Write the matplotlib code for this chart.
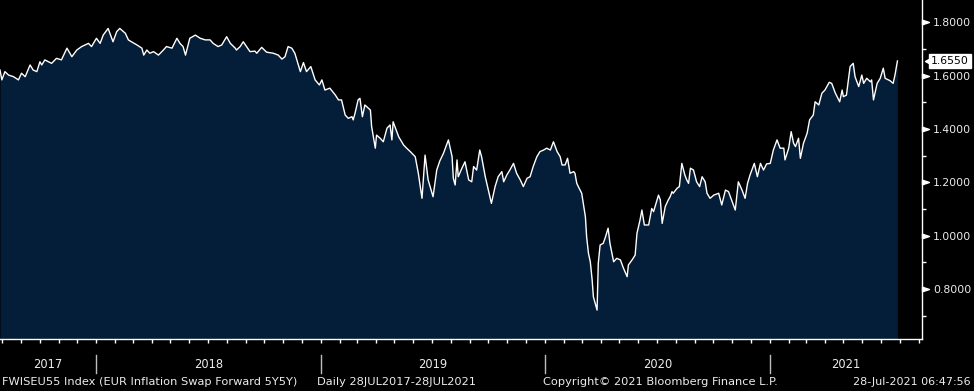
import numpy as np
import pandas as pd
import matplotlib
matplotlib.use("Agg")
import matplotlib.pyplot as plt
import matplotlib.dates as mdates
import matplotlib.transforms as mtransforms
from matplotlib.path import Path

start_date = "2017-07-28"
end_date = "2021-07-28"
axis_end_date = "2021-09-06"
day_offsets = [
    0, 3, 8, 14, 22, 30, 35, 41, 49, 54, 60, 65, 68, 73, 84, 92, 100, 109, 117, 125,
    133, 144, 149, 157, 163, 168, 176, 184, 190, 195, 204, 209, 214, 223, 231, 234, 239, 244, 250, 258,
    266, 271, 280, 288, 293, 298, 302, 309, 318, 326, 334, 342, 347, 355, 361, 369, 375, 383, 385, 391,
    396, 407, 415, 418, 426, 434, 445, 453, 459, 464, 469, 475, 480, 489, 494, 499, 506, 513, 520, 524,
    529, 537, 546, 551, 556, 562, 567, 573, 575, 578, 583, 586, 590, 594, 600, 603, 605, 611, 613, 619,
    624, 630, 635, 638, 640, 649, 657, 662, 668, 676, 681, 687, 692, 697, 705, 711, 716, 722, 730, 736,
    738, 741, 744, 746, 752, 757, 763, 768, 771, 776, 781, 784, 790, 795, 800, 806, 811, 817, 820, 825,
    830, 836, 841, 847, 852, 858, 863, 868, 874, 879, 885, 890, 896, 901, 907, 912, 915, 920, 924, 928,
    934, 936, 939, 943, 947, 950, 953, 955, 958, 961, 964, 966, 972, 974, 977, 982, 985, 990, 993, 999,
    1004, 1010, 1015, 1021, 1023, 1029, 1034, 1037, 1042, 1045, 1049, 1056, 1061, 1064, 1072, 1075, 1078, 1083, 1088, 1091,
    1094, 1096, 1102, 1106, 1110, 1115, 1118, 1121, 1124, 1129, 1134, 1139, 1143, 1148, 1151, 1156, 1162, 1170, 1175, 1181,
    1186, 1192, 1197, 1202, 1208, 1213, 1217, 1221, 1228, 1233, 1238, 1243, 1248, 1254, 1259, 1265, 1270, 1276, 1278, 1284,
    1288, 1292, 1295, 1300, 1303, 1308, 1314, 1318, 1324, 1327, 1333, 1338, 1343, 1350, 1354, 1360, 1367, 1371, 1373, 1378,
    1384, 1389, 1392, 1398, 1403, 1406, 1411, 1417, 1419, 1422, 1428, 1433, 1438, 1441, 1449, 1454, 1457, 1461,
]
values = [
    1.621, 1.584, 1.615, 1.602, 1.596, 1.584, 1.609, 1.596, 1.640, 1.621, 1.615, 1.652, 1.640, 1.659, 1.646, 1.665, 1.659, 1.703, 1.671, 1.696,
    1.709, 1.721, 1.709, 1.740, 1.721, 1.752, 1.777, 1.727, 1.765, 1.777, 1.759, 1.734, 1.727, 1.715, 1.703, 1.677, 1.696, 1.684, 1.690, 1.677,
    1.696, 1.709, 1.703, 1.740, 1.721, 1.709, 1.677, 1.740, 1.752, 1.740, 1.734, 1.734, 1.721, 1.709, 1.715, 1.746, 1.721, 1.703, 1.696, 1.709,
    1.727, 1.690, 1.692, 1.684, 1.706, 1.688, 1.684, 1.677, 1.662, 1.671, 1.709, 1.703, 1.684, 1.615, 1.649, 1.615, 1.634, 1.584, 1.565, 1.584,
    1.546, 1.553, 1.527, 1.509, 1.509, 1.452, 1.440, 1.446, 1.434, 1.459, 1.509, 1.515, 1.446, 1.490, 1.477, 1.471, 1.409, 1.328, 1.377, 1.365,
    1.352, 1.403, 1.415, 1.359, 1.427, 1.371, 1.340, 1.328, 1.315, 1.296, 1.234, 1.140, 1.302, 1.209, 1.146, 1.246, 1.280, 1.309, 1.359, 1.296,
    1.215, 1.190, 1.284, 1.221, 1.253, 1.277, 1.209, 1.202, 1.259, 1.246, 1.321, 1.296, 1.221, 1.171, 1.121, 1.184, 1.221, 1.240, 1.202, 1.227,
    1.246, 1.271, 1.234, 1.209, 1.184, 1.215, 1.221, 1.259, 1.296, 1.315, 1.321, 1.328, 1.321, 1.352, 1.315, 1.296, 1.265, 1.265, 1.290, 1.234,
    1.240, 1.234, 1.196, 1.177, 1.159, 1.115, 1.071, 0.996, 0.934, 0.902, 0.834, 0.771, 0.721, 0.896, 0.965, 0.971, 0.990, 1.028, 0.971, 0.902,
    0.915, 0.909, 0.878, 0.846, 0.890, 0.909, 0.927, 1.009, 1.059, 1.096, 1.040, 1.040, 1.102, 1.090, 1.152, 1.134, 1.046, 1.109, 1.134, 1.146,
    1.165, 1.159, 1.177, 1.184, 1.271, 1.227, 1.209, 1.196, 1.253, 1.246, 1.202, 1.184, 1.221, 1.202, 1.159, 1.140, 1.152, 1.159, 1.115, 1.171,
    1.165, 1.127, 1.096, 1.202, 1.171, 1.140, 1.196, 1.227, 1.271, 1.221, 1.271, 1.246, 1.269, 1.271, 1.321, 1.359, 1.328, 1.328, 1.284, 1.328,
    1.390, 1.346, 1.334, 1.365, 1.290, 1.346, 1.384, 1.434, 1.452, 1.502, 1.490, 1.534, 1.546, 1.575, 1.571, 1.534, 1.502, 1.546, 1.521, 1.527,
    1.634, 1.646, 1.596, 1.559, 1.602, 1.571, 1.590, 1.577, 1.584, 1.509, 1.571, 1.590, 1.628, 1.590, 1.581, 1.571, 1.602, 1.655,
]
y_ticks = [0.8, 1.0, 1.2, 1.4, 1.6, 1.8]
year_labels = ["2017", "2018", "2019", "2020", "2021"]
footer_left = "FWISEU55 Index (EUR Inflation Swap Forward 5Y5Y)"
footer_mid = "Daily 28JUL2017-28JUL2021"
footer_copy = "Copyright\u00a9 2021 Bloomberg Finance L.P."
footer_time = "28-Jul-2021 06:47:56"

FILL = "#041d38"
TXT = "#ececec"

plt.rcParams["font.family"] = ["DejaVu Sans"]

dates = pd.Timestamp(start_date) + pd.to_timedelta(day_offsets, unit="D")
x = mdates.date2num(dates.to_pydatetime())
v = np.array(values)

fig = plt.figure(figsize=(9.74, 3.91), dpi=100, facecolor="black")
ax = fig.add_axes([0.0, 52 / 391, 922 / 974, 339 / 391], facecolor="black")

ymin, ymax = 0.6125, 1.8836
ax.fill_between(x, v, ymin, color=FILL, linewidth=0)
ax.plot(x, v, color="white", lw=1.0)

x0 = mdates.date2num(pd.Timestamp(start_date))
x1 = mdates.date2num(pd.Timestamp(axis_end_date))
ax.set_xlim(x0, x1)
ax.set_ylim(ymin, ymax)

for s in ["left", "top"]:
    ax.spines[s].set_visible(False)
for s in ["right", "bottom"]:
    ax.spines[s].set_color("white")
    ax.spines[s].set_linewidth(1.0)

ax.xaxis.set_major_locator(mdates.MonthLocator())
ax.tick_params(axis="x", which="major", direction="out", length=3, width=1,
               color="white", labelbottom=False)

ax.yaxis.tick_right()
ax.set_yticks(y_ticks)
ax.set_yticks(np.arange(0.7, 1.85, 0.2), minor=True)
ax.set_yticklabels([f"{t:.4f}" for t in y_ticks])
ax.tick_params(axis="y", which="major", right=True, left=False, length=0,
               pad=8, labelsize=7.8, labelcolor=TXT)
ax.tick_params(axis="y", which="minor", right=True, left=False, direction="out",
               length=3, width=1, color="white")

tri = Path([(0, -0.33), (0, 0.33), (1, 0), (0, -0.33)],
           [Path.MOVETO, Path.LINETO, Path.LINETO, Path.CLOSEPOLY])
ytrans = mtransforms.blended_transform_factory(ax.transAxes, ax.transData)
ax.plot([1.0] * len(y_ticks), y_ticks, linestyle="none", marker=tri,
        markersize=10, color="white", transform=ytrans, clip_on=False)

# last price tag
last = values[-1]
ax.annotate(f"{last:.4f}", xy=(1.0, last), xycoords=ytrans,
            xytext=(6.5, 0), textcoords="offset points", ha="left", va="center",
            fontsize=7.8, color="black",
            bbox=dict(boxstyle="square,pad=0.15", fc="white", ec="white"))
tag = Path([(0, 0), (1, 0.55), (1, -0.55), (0, 0)],
           [Path.MOVETO, Path.LINETO, Path.LINETO, Path.CLOSEPOLY])
off = mtransforms.ScaledTranslation(3 / 100, 0, fig.dpi_scale_trans)
ax.plot([1.0], [last], linestyle="none", marker=tag, markersize=11,
        color="white", transform=ytrans + off, clip_on=False)

# year separators and labels
xtrans = mtransforms.blended_transform_factory(ax.transData, ax.transAxes)
years = [int(y) for y in year_labels]
bounds = [x0] + [mdates.date2num(pd.Timestamp(f"{y + 1}-01-01")) for y in years[:-1]] + [x1]
for i, lab in enumerate(year_labels):
    cx = (bounds[i] + bounds[i + 1]) / 2
    ax.text(cx, -26 / 339, lab, transform=xtrans, ha="center", va="center",
            fontsize=8.3, color=TXT, clip_on=False)
    if i > 0:
        ax.plot([bounds[i], bounds[i]], [-16 / 339, -34 / 339], color="#bdbdbd",
                lw=1, transform=xtrans, clip_on=False)

fy = 9 / 391
fig.text(2 / 974, fy, footer_left, ha="left", va="center", fontsize=8.2, color=TXT)
fig.text(317 / 974, fy, footer_mid, ha="left", va="center", fontsize=8.2, color=TXT)
fig.text(543 / 974, fy, footer_copy, ha="left", va="center", fontsize=8.2, color=TXT)
fig.text(971 / 974, fy, footer_time, ha="right", va="center", fontsize=8.0, color=TXT)

fig.savefig("out.png", dpi=100, facecolor="black")
